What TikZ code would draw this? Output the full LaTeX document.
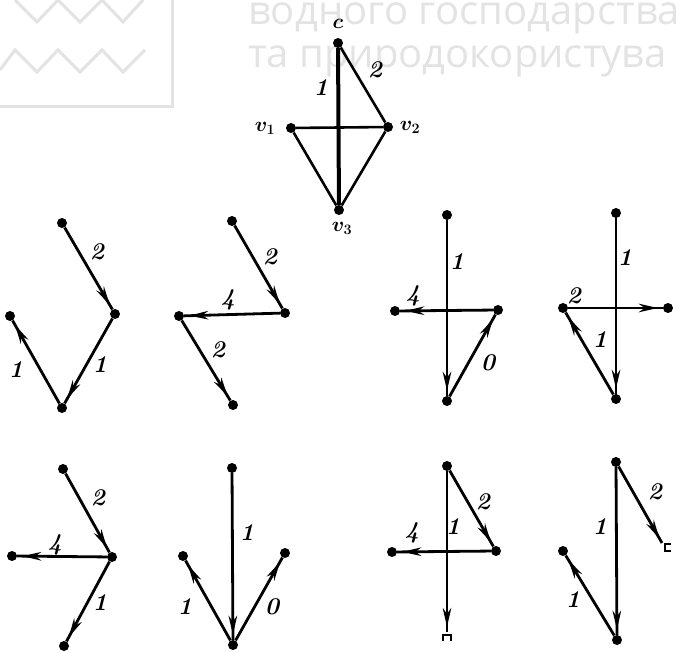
\documentclass[tikz,border=0pt]{standalone}
\usepackage{fontspec}
\newfontfamily\wmfont{Open Sans}
\usetikzlibrary{arrows.meta,decorations.markings}
\begin{document}
\begin{tikzpicture}[x=1pt,y=-1pt,
  dot/.style={circle,fill=black,inner sep=0pt,minimum size=10pt},
  edge/.style={line width=2.8pt},
  arr/.style={edge,postaction={decorate},
    decoration={markings,mark=at position -5pt with {\arrow{Stealth[length=19pt,width=8.5pt,inset=6pt]}}}},
  lab/.style={font=\fontsize{24}{24}\selectfont\bfseries\itshape,inner sep=0pt},
  vlab/.style={font=\fontsize{22}{22}\selectfont\boldmath,inner sep=0pt},
  wm/.style={black!11},
  wmtext/.style={wm,font=\wmfont\fontsize{40}{40}\selectfont,anchor=base west,inner sep=0pt}]
\useasboundingbox (0,0) rectangle (681,652);

% watermark
\draw[wm,line width=3pt] (-5,107) -- (172,107) -- (172,-5);
\draw[wm,line width=3pt] (15,0) -- (37,22) -- (58,0) -- (80,22) -- (102,0) -- (123,22) -- (143,0);
\draw[wm,line width=3pt] (0,70) -- (15,50) -- (37,72) -- (58,50) -- (80,72) -- (102,50) -- (123,72) -- (145,50);
\node[wmtext] (wm1) at (248,25) {водного господарства};
\node[wmtext] (wm2) at (248,68) {та природокористува};

% top graph
\node[dot] (c) at (338,43) {};
\node[dot] (v1) at (291,128) {};
\node[dot] (v2) at (388,127) {};
\node[dot] (v3) at (339,210) {};
\draw[line width=4pt] (c) -- (v3);
\draw[line width=2.6pt] (c) -- (v2);
\draw[line width=2.6pt] (v1) -- (v2);
\draw[line width=2.6pt] (v1) -- (v3);
\draw[line width=2.6pt] (v2) -- (v3);
\node[vlab] (lc) at (338,24) {$c$};
\node[vlab] (lv1) at (265,128) {$v_1$};
\node[vlab] (lv2) at (410,127) {$v_2$};
\node[vlab] (lv3) at (342,228) {$v_3$};
\node[lab] (l01) at (321,88) {1};
\node[lab] (l02) at (375,70) {2};

% graph 1
\node[dot] (a1t) at (62,223) {};
\node[dot] (a1r) at (115,314) {};
\node[dot] (a1b) at (62,408) {};
\node[dot] (a1l) at (10,316) {};
\draw[arr] (a1t) -- (a1r);
\draw[arr] (a1r) -- (a1b);
\draw[arr] (a1b) -- (a1l);
\node[lab] (l11) at (97,252) {2};
\node[lab] (l12) at (100,365) {1};
\node[lab] (l13) at (16,370) {1};

% graph 2
\node[dot] (b2t) at (232,221) {};
\node[dot] (b2r) at (285,313) {};
\node[dot] (b2l) at (179,316) {};
\node[dot] (b2b) at (233,405) {};
\draw[arr] (b2t) -- (b2r);
\draw[arr] (b2r) -- (b2l);
\draw[arr] (b2l) -- (b2b);
\node[lab] (l21) at (270,257) {2};
\node[lab] (l22) at (228,300) {4};
\node[lab] (l23) at (218,350) {2};

% graph 3
\node[dot] (c3t) at (447,215) {};
\node[dot] (c3l) at (395,311) {};
\node[dot] (c3r) at (498,310) {};
\node[dot] (c3b) at (447,401) {};
\draw[arr] (c3t) -- (c3b);
\draw[arr] (c3r) -- (c3l);
\draw[arr] (c3b) -- (c3r);
\node[lab] (l31) at (457,262) {1};
\node[lab] (l32) at (413,296) {4};
\node[lab] (l33) at (488,363) {0};

% graph 4
\node[dot] (d4t) at (616,213) {};
\node[dot] (d4l) at (563,308) {};
\node[dot] (d4r) at (668,308) {};
\node[dot] (d4b) at (616,399) {};
\draw[arr] (d4t) -- (d4b);
\draw[arr] (d4l) -- (d4r);
\draw[arr] (d4b) -- (d4l);
\node[lab] (l41) at (625,258) {1};
\node[lab] (l42) at (574,296) {2};
\node[lab] (l43) at (600,340) {1};

% graph 5
\node[dot] (e5t) at (63,469) {};
\node[dot] (e5c) at (112,557) {};
\node[dot] (e5l) at (12,556) {};
\node[dot] (e5b) at (64,646) {};
\draw[arr] (e5t) -- (e5c);
\draw[arr] (e5c) -- (e5l);
\draw[arr] (e5c) -- (e5b);
\node[lab] (l51) at (98,498) {2};
\node[lab] (l52) at (55,545) {4};
\node[lab] (l53) at (100,603) {1};

% graph 6
\node[dot] (f6t) at (232,468) {};
\node[dot] (f6b) at (233,645) {};
\node[dot] (f6l) at (183,556) {};
\node[dot] (f6r) at (285,553) {};
\draw[arr] (f6t) -- (f6b);
\draw[arr] (f6b) -- (f6l);
\draw[arr] (f6b) -- (f6r);
\node[lab] (l61) at (247,533) {1};
\node[lab] (l62) at (185,607) {1};
\node[lab] (l63) at (272,607) {0};

% graph 7
\node[dot] (g7t) at (447,466) {};
\node[dot] (g7r) at (496,551) {};
\node[dot] (g7l) at (392,552) {};
\coordinate (g7e) at (447,632);
\draw[arr] (g7t) -- (g7e);
\draw[arr] (g7t) -- (g7r);
\draw[arr] (g7r) -- (g7l);
\draw[line width=2.2pt] ([xshift=-4pt,yshift=-9pt]g7e) -- ([xshift=-4pt,yshift=-3pt]g7e) -- ([xshift=4pt,yshift=-3pt]g7e) -- ([xshift=4pt,yshift=-9pt]g7e);
\node[lab] (l71) at (453,527) {1};
\node[lab] (l72) at (483,502) {2};
\node[lab] (l73) at (412,533) {4};

% graph 8
\node[dot] (h8t) at (616,462) {};
\node[dot] (h8b) at (617,640) {};
\node[dot] (h8l) at (563,551) {};
\coordinate (h8e) at (662,543);
\draw[arr] (h8t) -- (h8b);
\draw[arr] (h8t) -- (h8e);
\draw[arr] (h8b) -- (h8l);
\draw[line width=2.2pt] ([xshift=9pt,yshift=-1pt]h8e) -- ([xshift=3pt,yshift=-1pt]h8e) -- ([xshift=3pt,yshift=-8pt]h8e) -- ([xshift=9pt,yshift=-8pt]h8e);
\node[lab] (l81) at (600,527) {1};
\node[lab] (l82) at (655,492) {2};
\node[lab] (l83) at (573,600) {1};
\end{tikzpicture}
\end{document}
